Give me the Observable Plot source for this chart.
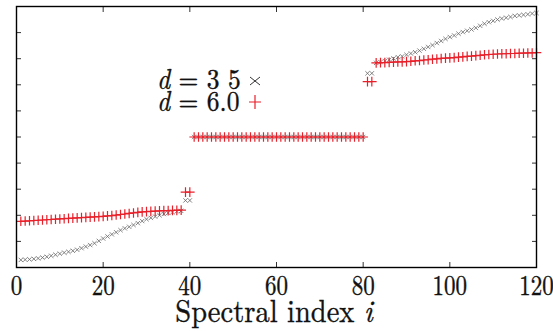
<!DOCTYPE html>
<html><head><meta charset="utf-8">
<script src="https://cdn.jsdelivr.net/npm/d3@7"></script>
<script src="https://cdn.jsdelivr.net/npm/@observablehq/plot@0.6"></script>
<style>
body{margin:0;background:#fff;}
#wrap{position:relative;width:553px;height:331px;color:#111;overflow:hidden;}
.stretch{position:absolute;white-space:pre;transform-origin:0 0;-webkit-text-stroke:0.35px #111;}
#leg1,#leg2{left:157px;font-size:25.5px;line-height:20px;transform:scaleY(1.12);}
#leg1{top:65px;} #leg2{top:87px;}
#xlabel{left:0;width:548px;top:292px;text-align:center;font-size:28.5px;line-height:30px;transform:scaleY(1.1);}
.sym{position:absolute;overflow:visible;}
</style></head>
<body><div id="wrap" style="font-family:'Latin Modern Roman','Liberation Serif',serif"><div id="chart"></div>
<div id="leg1" class="stretch"><i>d</i> = 3 5</div>
<div id="leg2" class="stretch"><i>d</i> = 6.0</div>
<svg class="sym" style="left:250px;top:77px" width="10" height="8"><path d="M0,0L10,8M10,0L0,8" stroke="#333" stroke-width="1"/></svg>
<svg class="sym" style="left:249px;top:95px" width="12" height="14"><path d="M0,7H12M6,0V14" stroke="#e8202a" stroke-width="1.2"/></svg>
<div id="xlabel" class="stretch">Spectral index <i>i</i></div></div>
<script>
// Spectral index i = 1..120
const index = d3.range(1, 121);
const xTicks = [0, 20, 40, 60, 80, 100, 120];
const yTicks = [0, 1, 2, 3, 4, 5, 6, 7, 8, 9, 10];
// d = 3.5 (×)
const d35 = [
  0.29,0.30,0.31,0.33,0.35,0.38,0.41,0.45,0.49,0.53,0.57,0.60,0.64,0.68,0.74,0.80,0.86,0.93,1.02,1.11,
  1.19,1.27,1.35,1.43,1.50,1.56,1.63,1.70,1.78,1.85,1.90,1.95,2.00,2.05,2.09,2.12,2.15,2.17,2.57,2.57,
  5.00,5.00,5.00,5.00,5.00,5.00,5.00,5.00,5.00,5.00,5.00,5.00,5.00,5.00,5.00,5.00,5.00,5.00,5.00,5.00,
  5.00,5.00,5.00,5.00,5.00,5.00,5.00,5.00,5.00,5.00,5.00,5.00,5.00,5.00,5.00,5.00,5.00,5.00,5.00,5.00,
  7.44,7.44,7.84,7.87,7.91,7.96,8.01,8.06,8.09,8.15,8.20,8.25,8.31,8.38,8.45,8.52,8.60,8.68,8.76,8.83,
  8.89,8.96,9.02,9.07,9.12,9.18,9.26,9.34,9.40,9.45,9.50,9.54,9.57,9.60,9.64,9.66,9.68,9.70,9.73,9.75
];
// d = 6.0 (+)
const d60 = [
  1.77,1.78,1.79,1.80,1.81,1.82,1.83,1.84,1.85,1.86,1.87,1.88,1.89,1.90,1.91,1.92,1.93,1.94,1.95,1.96,
  1.98,1.99,2.01,2.03,2.05,2.07,2.09,2.11,2.13,2.14,2.15,2.16,2.17,2.18,2.18,2.19,2.19,2.20,2.89,2.89,
  5.00,5.00,5.00,5.00,5.00,5.00,5.00,5.00,5.00,5.00,5.00,5.00,5.00,5.00,5.00,5.00,5.00,5.00,5.00,5.00,
  5.00,5.00,5.00,5.00,5.00,5.00,5.00,5.00,5.00,5.00,5.00,5.00,5.00,5.00,5.00,5.00,5.00,5.00,5.00,5.00,
  7.12,7.12,7.84,7.85,7.85,7.86,7.87,7.88,7.88,7.89,7.90,7.92,7.93,7.95,7.96,7.98,7.99,8.01,8.02,8.03,
  8.04,8.06,8.07,8.09,8.10,8.12,8.13,8.15,8.16,8.17,8.18,8.19,8.19,8.20,8.20,8.21,8.21,8.22,8.22,8.23
];

const chart = Plot.plot({
  width: 553,
  height: 331,
  marginLeft: 16,
  marginRight: 17,
  marginTop: 6,
  marginBottom: 64,
  style: {fontFamily: "'Latin Modern Roman', 'Liberation Serif', serif", fontSize: "23px", background: "#fff", color: "#111"},
  x: {domain: [0, 120]},
  y: {domain: [0, 10]},
  marks: [
    Plot.dot(index, {x: d => d, y: (d, i) => d35[i], symbol: "times", r: 2.1, stroke: "#666", strokeWidth: 0.8}),
    Plot.dot(index, {x: d => d, y: (d, i) => d60[i], symbol: "plus", r: 3.2, stroke: "#e8202a", strokeWidth: 1.2}),
    Plot.axisX({anchor: "bottom", ticks: xTicks, tickSize: -5, tickPadding: 13, fontSize: 23, label: null, stroke: "#333"}),
    Plot.axisX({anchor: "top", ticks: xTicks, tickSize: -5, tickFormat: () => "", label: null, stroke: "#333"}),
    Plot.axisY({anchor: "left", ticks: yTicks, tickSize: -5, tickFormat: () => "", label: null, stroke: "#333"}),
    Plot.axisY({anchor: "right", ticks: yTicks, tickSize: -5, tickFormat: () => "", label: null, stroke: "#333"}),
    Plot.frame({stroke: "#000", strokeWidth: 1.4})
  ]
});
// stretch the x tick labels vertically like the reference typesetting
d3.select(chart).selectAll("g[aria-label='x-axis tick label'] text").each(function() {
  const t = this.getAttribute("transform") || "";
  this.setAttribute("transform", t + " scale(1,1.2)");
  this.setAttribute("stroke", "#111");
  this.setAttribute("stroke-width", "0.35");
});
document.getElementById("chart").appendChild(chart);
</script>
</body></html>
